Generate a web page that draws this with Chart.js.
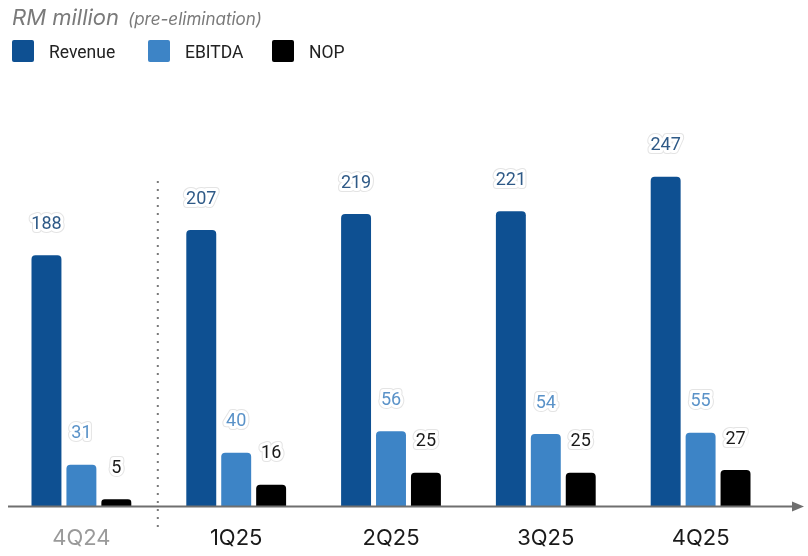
<!DOCTYPE html>
<html>
<head>
<meta charset="utf-8">
<script src="https://cdn.jsdelivr.net/npm/chart.js@4.4.1/dist/chart.umd.min.js"></script>
<style>
  html, body { margin: 0; padding: 0; background: #fff; }
  #wrap { width: 808px; height: 556px; }
</style>
</head>
<body>
<div id="wrap"><canvas id="results"></canvas></div>
<script>
const quarters = ['4Q24', '1Q25', '2Q25', '3Q25', '4Q25']
const revenue = [188, 207, 219, 221, 247]
const ebitda = [31, 40, 56, 54, 55]
const nop = [5, 16, 25, 25, 27]

const seriesNames = ['Revenue', 'EBITDA', 'NOP']
const barColors = ['#0e5092', '#3d84c6', '#000000']
const valueColors = ['#2f5a87', '#5a92c8', '#1a1a1a']

// title, legend, axis arrow, dotted divider and value labels
const decorations = {
  id: 'decorations',
  beforeDatasetsDraw (chart) {
    const { ctx } = chart
    const x = chart.scales.x
    // dotted divider between prior-year quarter and current year
    const divX = (x.getPixelForValue(0) + x.getPixelForValue(1)) / 2 - 1
    ctx.save()
    ctx.fillStyle = '#7a7a7a'
    for (let y = 181; y < 527; y += 8) {
      ctx.fillRect(divX - 1, y, 2, 2)
    }
    ctx.restore()
  },
  afterDatasetsDraw (chart) {
    const { ctx, chartArea } = chart
    ctx.save()
    // baseline with arrow
    const by = chartArea.bottom + 0.5
    ctx.strokeStyle = '#6f6f6f'
    ctx.lineWidth = 2
    ctx.beginPath()
    ctx.moveTo(8, by)
    ctx.lineTo(796, by)
    ctx.stroke()
    ctx.fillStyle = '#6f6f6f'
    ctx.beginPath()
    ctx.moveTo(804, by)
    ctx.lineTo(792, by - 5)
    ctx.lineTo(792, by + 5)
    ctx.closePath()
    ctx.fill()

    // value labels with a white halo
    ctx.font = '18px Roboto'
    ctx.textAlign = 'center'
    ctx.textBaseline = 'middle'
    ctx.lineJoin = 'round'
    chart.data.datasets.forEach((ds, di) => {
      chart.getDatasetMeta(di).data.forEach((bar, i) => {
        const txt = String(ds.data[i])
        const ty = bar.y - 31
        ctx.strokeStyle = '#e4e4e4'
        ctx.lineWidth = 8
        ctx.strokeText(txt, bar.x, ty)
        ctx.strokeStyle = '#ffffff'
        ctx.lineWidth = 6
        ctx.strokeText(txt, bar.x, ty)
        ctx.fillStyle = valueColors[di]
        ctx.fillText(txt, bar.x, ty)
      })
    })

    // title
    ctx.textAlign = 'left'
    ctx.textBaseline = 'alphabetic'
    ctx.fillStyle = '#7a7a7a'
    ctx.font = 'italic 22px Inter'
    ctx.fillText('RM million', 12, 25)
    ctx.font = 'italic 17px Inter'
    ctx.fillText('(pre-elimination)', 128, 25)

    // legend
    const legendX = [12, 148, 272]
    ctx.font = '17.5px Roboto'
    seriesNames.forEach((name, i) => {
      ctx.fillStyle = barColors[i]
      ctx.beginPath()
      ctx.roundRect(legendX[i], 40, 22, 22, 2)
      ctx.fill()
      ctx.fillStyle = '#222'
      ctx.fillText(name, legendX[i] + 37, 58)
    })
    ctx.restore()
  }
}

const datasets = [revenue, ebitda, nop].map((values, i) => ({
  label: seriesNames[i],
  data: values,
  backgroundColor: barColors[i],
  borderRadius: 4,
  borderSkipped: 'bottom',
  categoryPercentage: 0.677,
  barPercentage: 0.857
}))

new Chart(document.getElementById('results'), {
  type: 'bar',
  data: { labels: quarters, datasets },
  options: {
    responsive: true,
    maintainAspectRatio: false,
    animation: false,
    layout: { padding: { left: 4, right: 30, top: 106, bottom: 0 } },
    plugins: {
      legend: { display: false },
      tooltip: { enabled: false }
    },
    scales: {
      x: {
        grid: { display: false, drawTicks: false },
        border: { display: false },
        ticks: {
          padding: 19,
          font: { family: 'Inter', size: 22 },
          color: ctx => ctx.index === 0 ? '#9a9a9a' : '#1a1a1a'
        },
        afterFit (scale) { scale.height = 50 }
      },
      y: {
        display: false,
        min: 0,
        max: 300
      }
    }
  },
  plugins: [decorations]
})
</script>
</body>
</html>
